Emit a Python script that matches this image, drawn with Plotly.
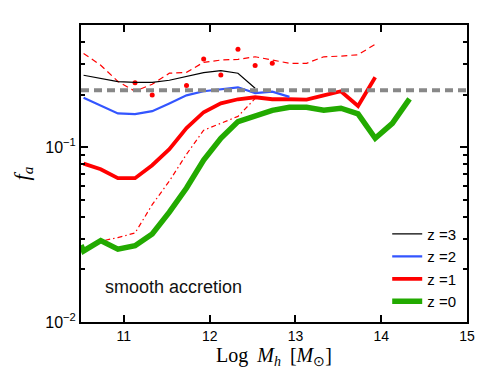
import plotly.graph_objects as go
import numpy as np

# halo mass bins (log M_h)
x_grid = [10.53, 10.73, 10.93, 11.13, 11.33, 11.53, 11.73, 11.93, 12.13, 12.33,
          12.53, 12.73, 12.93, 13.13, 13.33, 13.53, 13.73, 13.93, 14.13, 14.33]

# z = 3 (thin black)
x_z3 = x_grid[:11]
f_z3 = [0.258, 0.248, 0.237, 0.235, 0.235, 0.2415, 0.2545, 0.2667, 0.274, 0.265, 0.2175]

# z = 2 (blue)
x_z2 = x_grid[:13]
f_z2 = [0.192, 0.174, 0.156, 0.1545, 0.1607, 0.178, 0.198, 0.209, 0.214, 0.220, 0.204, 0.208, 0.194]

# z = 1 (thick red)
x_z1 = x_grid[:18]
f_z1 = [0.0805, 0.0748, 0.0665, 0.0665, 0.0789, 0.0974, 0.1285, 0.1585, 0.178, 0.188,
        0.193, 0.188, 0.188, 0.187, 0.198, 0.209, 0.172, 0.251]

# z = 1 upper (thin red dashed)
x_z1_hi = x_grid[:18]
f_z1_hi = [0.344, 0.294, 0.238, 0.209, 0.229, 0.265, 0.268, 0.306, 0.315, 0.318,
           0.329, 0.314, 0.302, 0.302, 0.329, 0.332, 0.338, 0.388]

# z = 1 lower (thin red dash-dot)
x_z1_lo = x_grid[:11]
f_z1_lo = [0.0251, 0.029, 0.0304, 0.0323, 0.0469, 0.064, 0.0912, 0.125, 0.137, 0.150, 0.19]

# red dots
x_dots = [11.13, 11.33, 11.73, 11.93, 12.13, 12.33, 12.53, 12.73]
f_dots = [0.234, 0.199, 0.2255, 0.320, 0.259, 0.363, 0.293, 0.302]

# z = 0 (thick green)
x_z0 = [10.5] + x_grid
f_z0 = [0.0275, 0.0255, 0.0292, 0.0261, 0.0273, 0.0319, 0.0425, 0.0584, 0.0843, 0.1125,
        0.140, 0.150, 0.1625, 0.169, 0.169, 0.1625, 0.167, 0.155, 0.1125, 0.137, 0.189]

# reference level (grey dashed)
x_ref = [10.5, 15.0]
f_ref = [0.212, 0.212]

fig = go.Figure()

fig.add_trace(go.Scatter(x=x_z1_hi, y=f_z1_hi, mode="lines", showlegend=False,
                         line=dict(color="#FF0000", width=1.2, dash="6px,4px")))
fig.add_trace(go.Scatter(x=x_z1_lo, y=f_z1_lo, mode="lines", showlegend=False,
                         line=dict(color="#FF0000", width=1.2, dash="5px,3px,1.5px,3px")))
fig.add_trace(go.Scatter(x=x_dots, y=f_dots, mode="markers", showlegend=False,
                         marker=dict(color="#FF0000", size=5)))
fig.add_trace(go.Scatter(x=x_z0, y=f_z0, mode="lines", name="z =0", legendrank=4,
                         line=dict(color="#22AA00", width=5.5)))
fig.add_trace(go.Scatter(x=x_z1, y=f_z1, mode="lines", name="z =1", legendrank=3,
                         line=dict(color="#FF0000", width=3.8)))
fig.add_trace(go.Scatter(x=x_z2, y=f_z2, mode="lines", name="z =2", legendrank=2,
                         line=dict(color="#3355FF", width=2.2)))
fig.add_trace(go.Scatter(x=x_z3, y=f_z3, mode="lines", name="z =3", legendrank=1,
                         line=dict(color="#000000", width=1.2)))
fig.add_trace(go.Scatter(x=x_ref, y=f_ref, mode="lines", showlegend=False,
                         line=dict(color="#888888", width=4, dash="8px,5px")))

fig.add_annotation(text="smooth accretion", xref="paper", yref="paper",
                   x=0.056, y=0.118, xanchor="left", yanchor="middle", showarrow=False,
                   font=dict(family="Liberation Sans, Arial", size=18, color="#111111"))

fig.update_layout(
    width=491, height=371,
    margin=dict(l=73, r=32, t=17, b=57),
    paper_bgcolor="white", plot_bgcolor="white",
    font=dict(family="Liberation Sans, Arial", size=14, color="black"),
    legend=dict(x=0.985, y=0.015, xanchor="right", yanchor="bottom",
                bgcolor="rgba(255,255,255,0)", font=dict(size=15),
                itemwidth=30, tracegroupgap=0),
)

fig.update_xaxes(
    range=[10.5, 15], tickvals=[11, 12, 13, 14, 15],
    ticks="inside", ticklen=7, tickwidth=2, tickcolor="black",
    showline=True, linecolor="black", linewidth=2, mirror="ticks",
    showgrid=False, zeroline=False,
    tickfont=dict(size=14),
    title=dict(text="Log\u2009 <i>M<sub>h</sub></i>\u2009 [<i>M</i><sub>⊙</sub>]",
               font=dict(family="Liberation Serif, Times New Roman", size=20), standoff=2),
)

fig.update_yaxes(
    type="log", range=[-2, np.log10(0.5)],
    tickvals=[0.01, 0.1], ticktext=["10<sup>−2</sup>", "10<sup>−1</sup>"],
    ticks="inside", ticklen=7, tickwidth=2, tickcolor="black",
    minor=dict(ticks="inside", ticklen=4, tickwidth=1.5, tickcolor="black",
               tickvals=[0.02, 0.03, 0.04, 0.05, 0.06, 0.07, 0.08, 0.09, 0.2, 0.3, 0.4, 0.5],
               showgrid=False),
    showline=True, linecolor="black", linewidth=2, mirror="ticks",
    showgrid=False, zeroline=False,
    tickfont=dict(size=16),
    title=dict(text="<i>f<sub>a</sub></i>",
               font=dict(family="Liberation Serif, Times New Roman", size=22), standoff=10),
)

fig.write_html("out.html")
